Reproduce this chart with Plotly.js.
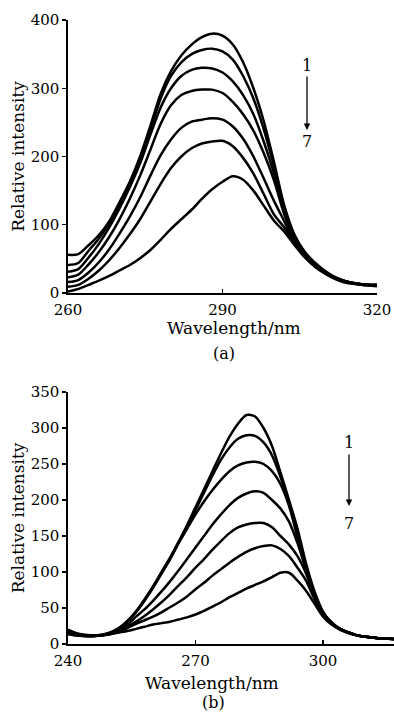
<!DOCTYPE html>
<html>
<head>
<meta charset="utf-8">
<script src="https://cdn.plot.ly/plotly-3.0.1.min.js"></script>
<style>
html,body{margin:0;padding:0;background:#fff;}
#chart{width:394px;height:713px;}
</style>
</head>
<body>
<div id="chart"></div>
<script>
// ---- Panel (a) ----
const wavelengthA = [260,262,264,266,268,270,272,274,276,278,280,282,284,286,288,290,292,294,296,298,300,302,304,306,308,310,312,314,317,320];
const a1 = [56,57,70,85,105,133,163,200,245,292,325,348,364,375,380,377,364,338,300,252,192,128,85,60,44,32,23,17,13,12];
const a2 = [41,44,62,80,102,130,160,197,240,285,318,338,350,356,358,354,342,318,285,240,185,125,83,59,43,31,22,17,13,12];
const a3 = [31,35,52,72,96,124,155,190,232,272,300,318,327,330,329,323,310,290,262,222,175,120,80,57,42,30,22,17,13,11];
const a4 = [23,27,42,60,82,108,138,172,210,248,275,290,296,298,298,293,280,262,238,205,165,115,78,56,41,30,22,17,13,11];
const a5 = [16,19,30,45,64,87,112,140,172,202,225,242,251,254,256,254,244,226,200,168,135,105,74,54,40,29,21,16,12,11];
const a6 = [9,12,21,33,48,66,86,108,134,160,183,200,212,219,222,223,215,198,175,145,115,96,72,53,39,29,21,16,12,11];
const a7 = [2,6,12,18,25,33,41,51,63,78,94,108,122,138,152,163,171,166,150,128,106,90,70,52,38,28,20,15,12,10];
const seriesA = [a1,a2,a3,a4,a5,a6,a7];
const ticksAx = [260,290,320];
const ticksAy = [0,100,200,300,400];

// ---- Panel (b) ----
const wavelengthB = [240,242,244,246,248,250,252,254,256,258,260,262,264,266,268,270,272,274,276,278,280,282,284,286,288,290,292,294,296,298,300,302,304,306,308,310,313,316.7];
const b1 = [20,15,13,12,13,16,22,32,45,62,80,100,120,142,165,190,215,240,265,288,306,318,316,300,275,238,200,160,112,73,45,30,21,16,12,10,8,7];
const b2 = [18,14,12,12,13,16,22,32,45,61,79,98,118,140,162,186,210,234,256,273,285,290,289,280,262,232,195,152,108,70,44,30,21,16,12,10,8,7];
const b3 = [17,13,12,11,12,15,21,31,44,60,78,98,118,140,160,180,198,214,228,240,248,252,253,250,240,222,192,148,106,69,43,30,21,16,12,10,8,7];
const b4 = [16,13,12,11,12,14,19,27,38,48,60,73,87,102,118,134,150,166,180,193,203,209,212,210,200,188,170,140,103,67,42,29,21,16,12,10,8,7];
const b5 = [15,12,11,11,12,14,18,24,31,39,48,58,69,81,93,106,118,131,143,154,162,166,168,168,162,150,138,122,98,65,41,29,21,16,12,10,8,7];
const b6 = [14,12,11,11,12,14,17,22,28,33,38,44,51,58,66,76,85,95,104,113,121,128,133,136,137,132,122,106,88,62,40,28,20,16,12,10,8,7];
const b7 = [14,12,11,11,12,14,16,18,21,24,27,29,31,34,37,41,46,52,58,65,71,77,82,87,93,99,99,88,74,56,38,27,20,15,12,10,8,7];
const seriesB = [b1,b2,b3,b4,b5,b6,b7];
const ticksBx = [240,270,300];
const ticksBy = [0,50,100,150,200,250,300,350];

const W = 394, H = 713;
const px = v => v / W;
const py = v => 1 - v / H;
const FONT = 'DejaVu Serif, Liberation Serif, serif';

const traces = [];
seriesA.forEach((s, i) => traces.push({
  x: wavelengthA, y: s, type: 'scatter', mode: 'lines', name: String(i + 1),
  xaxis: 'x', yaxis: 'y',
  line: {color: '#000', width: 2.5, shape: 'spline', smoothing: 0.8}
}));
seriesB.forEach((s, i) => traces.push({
  x: wavelengthB, y: s, type: 'scatter', mode: 'lines', name: String(i + 1),
  xaxis: 'x2', yaxis: 'y2',
  line: {color: '#000', width: 2.5, shape: 'spline', smoothing: 0.8}
}));

const axisCommon = {
  showgrid: false, zeroline: false, showline: true, linecolor: '#000', linewidth: 1.6,
  tickfont: {family: FONT, size: 15, color: '#000'}, tickcolor: '#000', ticklen: 4, tickwidth: 1.2
};

const layout = {
  width: W, height: H,
  margin: {l: 0, r: 0, t: 0, b: 0},
  paper_bgcolor: '#fff', plot_bgcolor: '#fff',
  showlegend: false,
  font: {family: FONT, color: '#000'},
  xaxis: Object.assign({}, axisCommon, {
    domain: [px(68), px(377)], range: [260, 320], tickvals: ticksAx, ticks: 'inside',
    anchor: 'y', ticklabelstandoff: 2
  }),
  yaxis: Object.assign({}, axisCommon, {
    domain: [py(293), py(20)], range: [0, 400], tickvals: ticksAy, ticks: 'outside',
    anchor: 'x',
    title: {text: 'Relative intensity', font: {family: FONT, size: 17, color: '#000'}, standoff: 2}
  }),
  xaxis2: Object.assign({}, axisCommon, {
    domain: [px(68), 1], range: [240, 316.7], tickvals: ticksBx, ticks: 'inside',
    anchor: 'y2', ticklabelstandoff: 2
  }),
  yaxis2: Object.assign({}, axisCommon, {
    domain: [py(644), py(392)], range: [0, 350], tickvals: ticksBy, ticks: 'outside',
    anchor: 'x2',
    title: {text: 'Relative intensity', font: {family: FONT, size: 17, color: '#000'}, standoff: 2}
  }),
  annotations: [
    {xref: 'paper', yref: 'paper', x: px(234), y: py(328), text: 'Wavelength/nm', showarrow: false,
     font: {family: FONT, size: 17}, xanchor: 'center', yanchor: 'middle'},
    {xref: 'paper', yref: 'paper', x: px(224), y: py(353), text: '(a)', showarrow: false,
     font: {family: FONT, size: 16}, xanchor: 'center', yanchor: 'middle'},
    {xref: 'paper', yref: 'paper', x: px(212), y: py(683), text: 'Wavelength/nm', showarrow: false,
     font: {family: FONT, size: 17}, xanchor: 'center', yanchor: 'middle'},
    {xref: 'paper', yref: 'paper', x: px(213), y: py(702), text: '(b)', showarrow: false,
     font: {family: FONT, size: 16}, xanchor: 'center', yanchor: 'middle'},
    // panel a: 1 -> 7
    {xref: 'paper', yref: 'paper', x: px(307), y: py(65), text: '1', showarrow: false,
     font: {family: FONT, size: 16}, xanchor: 'center', yanchor: 'middle'},
    {xref: 'paper', yref: 'paper', x: px(307), y: py(130), text: '', showarrow: true,
     ax: 0, ay: -55, arrowhead: 2, arrowsize: 1, arrowwidth: 1.3, arrowcolor: '#000'},
    {xref: 'paper', yref: 'paper', x: px(307), y: py(141), text: '7', showarrow: false,
     font: {family: FONT, size: 16}, xanchor: 'center', yanchor: 'middle'},
    // panel b: 1 -> 7
    {xref: 'paper', yref: 'paper', x: px(349), y: py(442), text: '1', showarrow: false,
     font: {family: FONT, size: 16}, xanchor: 'center', yanchor: 'middle'},
    {xref: 'paper', yref: 'paper', x: px(349), y: py(506), text: '', showarrow: true,
     ax: 0, ay: -53, arrowhead: 2, arrowsize: 1, arrowwidth: 1.3, arrowcolor: '#000'},
    {xref: 'paper', yref: 'paper', x: px(349), y: py(523), text: '7', showarrow: false,
     font: {family: FONT, size: 16}, xanchor: 'center', yanchor: 'middle'}
  ]
};

Plotly.newPlot('chart', traces, layout, {staticPlot: true, displayModeBar: false});
</script>
</body>
</html>
